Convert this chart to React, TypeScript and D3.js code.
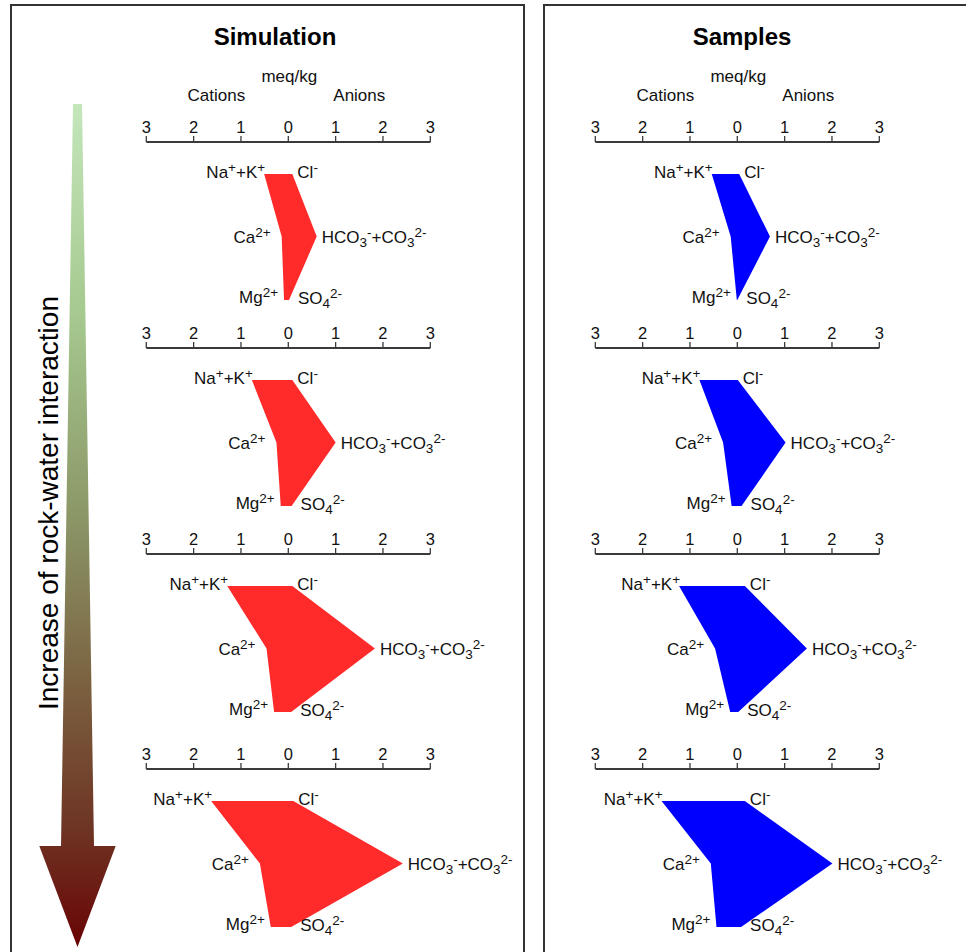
import React from "react";
import * as d3 from "d3";

// meq/kg values, one entry per diagram (top to bottom)
const simNaK = [0.51, 0.77, 1.29, 1.63];
const simCa = [0.14, 0.25, 0.46, 0.6];
const simMg = [0.09, 0.16, 0.3, 0.37];
const simCl = [0.085, 0.085, 0.085, 0.105];
const simHCO3 = [0.6, 1.0, 1.83, 2.42];
const simSO4 = [0.015, 0.07, 0.06, 0.06];

const smpNaK = [0.54, 0.8, 1.23, 1.6];
const smpCa = [0.14, 0.3, 0.47, 0.56];
const smpMg = [0.01, 0.12, 0.15, 0.44];
const smpCl = [0.04, 0.01, 0.16, 0.16];
const smpHCO3 = [0.69, 1.02, 1.47, 2.01];
const smpSO4 = [0.0, 0.09, 0.02, 0.08];

const tickValues = [-3, -2, -1, 0, 1, 2, 3];
const panelTitles = ["Simulation", "Samples"];
const arrowLabel = "Increase of rock-water interaction";

// ion labels: [text, kind] with kind n = normal, p = superscript, b = subscript
type Seg = [string, "n" | "p" | "b"];
const lblNaK: Seg[] = [["Na", "n"], ["+", "p"], ["+K", "n"], ["+", "p"]];
const lblCl: Seg[] = [["Cl", "n"], ["-", "p"]];
const lblCa: Seg[] = [["Ca", "n"], ["2+", "p"]];
const lblHCO3: Seg[] = [["HCO", "n"], ["3", "b"], ["-", "p"], ["+CO", "n"], ["3", "b"], ["2-", "p"]];
const lblMg: Seg[] = [["Mg", "n"], ["2+", "p"]];
const lblSO4: Seg[] = [["SO", "n"], ["4", "b"], ["2-", "p"]];

const FONT = "'Liberation Sans', Arial, Helvetica, sans-serif";
const AXIS_Y = [142, 348, 554, 769];
const ROW = [32, 94.5, 158];

type Sample = { na: number; ca: number; mg: number; cl: number; hco3: number; so4: number };

function buildSeries(na: number[], ca: number[], mg: number[], cl: number[], hco3: number[], so4: number[]): Sample[] {
  return na.map((_, i) => ({ na: na[i], ca: ca[i], mg: mg[i], cl: cl[i], hco3: hco3[i], so4: so4[i] }));
}

const FS = 17;
const SUP = 13.5;
const SHIFT = { n: 0, p: -6, b: 4 };

function Label({ x, y, anchor, segs }: { x: number; y: number; anchor?: string; segs: Seg[] }) {
  let cur = 0;
  return (
    <text x={x} y={y} textAnchor={anchor || "start"} fontSize={FS} fontFamily={FONT} fill="#111">
      {segs.map(([t, k], i) => {
        const target = SHIFT[k];
        const dy = target - cur;
        cur = target;
        return (
          <tspan key={i} dy={dy} fontSize={k === "n" ? FS : SUP}>
            {t}
          </tspan>
        );
      })}
    </text>
  );
}

function Stiff({ x, axisY, d, color }: { x: d3.ScaleLinear<number, number>; axisY: number; d: Sample; color: string }) {
  const r0 = axisY + ROW[0];
  const r1 = axisY + ROW[1];
  const r2 = axisY + ROW[2];
  const pts: [number, number][] = [
    [x(-d.na), r0],
    [x(d.cl), r0],
    [x(d.hco3), r1],
    [x(d.so4), r2],
    [x(-d.mg), r2],
    [x(-d.ca), r1],
  ];
  const line = d3.line().curve(d3.curveLinearClosed);
  return (
    <g>
      <line x1={x(-3)} x2={x(3)} y1={axisY} y2={axisY} stroke="#3a3a3a" strokeWidth={2} />
      {tickValues.map((t) => (
        <g key={t}>
          <line x1={x(t)} x2={x(t)} y1={axisY} y2={axisY - 6} stroke="#3a3a3a" strokeWidth={1.3} />
          <text x={x(t)} y={axisY - 9} textAnchor="middle" fontSize={16.5} fontFamily={FONT} fill="#111">
            {Math.abs(t)}
          </text>
        </g>
      ))}
      <path d={line(pts) || ""} fill={color} stroke="none" />
      <Label x={x(-d.na) + 1} y={r0 + 4} anchor="end" segs={lblNaK} />
      <Label x={x(d.cl) + 5} y={r0 + 4} segs={lblCl} />
      <Label x={x(-d.ca) - 11} y={r1 + 6} anchor="end" segs={lblCa} />
      <Label x={x(d.hco3) + 5} y={r1 + 6} segs={lblHCO3} />
      <Label x={x(-d.mg) - 6} y={r2 + 3} anchor="end" segs={lblMg} />
      <Label x={x(d.so4) + 9} y={r2 + 4} segs={lblSO4} />
    </g>
  );
}

function Panel({ zero, title, titleX, data, color }: { zero: number; title: string; titleX: number; data: Sample[]; color: string }) {
  const x = d3.scaleLinear().domain([-3, 3]).range([zero - 142, zero + 142]);
  return (
    <g>
      <text x={titleX} y={45} textAnchor="middle" fontSize={24} fontWeight="bold" fontFamily={FONT} fill="#000">
        {title}
      </text>
      <text x={x(0) + 1} y={82} textAnchor="middle" fontSize={17} fontFamily={FONT} fill="#111">
        meq/kg
      </text>
      <text x={x(-1.52)} y={101} textAnchor="middle" fontSize={17} fontFamily={FONT} fill="#111">
        Cations
      </text>
      <text x={x(1.5)} y={101} textAnchor="middle" fontSize={17} fontFamily={FONT} fill="#111">
        Anions
      </text>
      {data.map((d, i) => (
        <Stiff key={i} x={x} axisY={AXIS_Y[i]} d={d} color={color} />
      ))}
    </g>
  );
}

export default function App() {
  const sim = buildSeries(simNaK, simCa, simMg, simCl, simHCO3, simSO4);
  const smp = buildSeries(smpNaK, smpCa, smpMg, smpCl, smpHCO3, smpSO4);
  const arrow = d3.line()([
    [73, 104],
    [82, 104],
    [94, 846],
    [115.7, 846],
    [77.5, 947],
    [39.3, 846],
    [61, 846],
  ]) + "Z";
  return (
    <svg width={966} height={952} style={{ position: "absolute", left: 0, top: 0, background: "#fff" }}>
      <defs>
        <linearGradient id="arrowGrad" gradientUnits="userSpaceOnUse" x1={0} y1={104} x2={0} y2={947}>
          <stop offset="0" stopColor="#c3e6bb" />
          <stop offset="0.25" stopColor="#a6c98f" />
          <stop offset="0.5" stopColor="#8a9465" />
          <stop offset="0.7" stopColor="#7a5e3e" />
          <stop offset="0.86" stopColor="#6e3424" />
          <stop offset="1" stopColor="#690404" />
        </linearGradient>
      </defs>
      <rect x={0} y={0} width={966} height={952} fill="#fff" />
      <path d="M11,952 V5 H524 V952" fill="none" stroke="#333" strokeWidth={2} />
      <path d="M544,952 V5 H970" fill="none" stroke="#333" strokeWidth={2} />
      <path d={arrow} fill="url(#arrowGrad)" />
      <text transform="translate(58,503) rotate(-90)" textAnchor="middle" fontSize={28} fontFamily={FONT} fill="#000">
        {arrowLabel}
      </text>
      <Panel zero={288.3} title={panelTitles[0]} titleX={275} data={sim} color="#ff2a2a" />
      <Panel zero={737.3} title={panelTitles[1]} titleX={742} data={smp} color="#0000ff" />
    </svg>
  );
}
